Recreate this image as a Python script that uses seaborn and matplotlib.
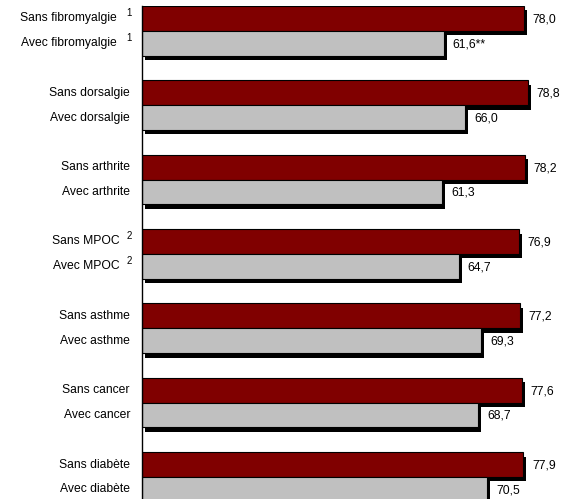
import matplotlib
matplotlib.use("Agg")
import matplotlib.pyplot as plt
import matplotlib.transforms as mtrans
from matplotlib.patches import Rectangle
import seaborn as sns
import pandas as pd

# ---- data ----
sans_labels = ["Sans fibromyalgie", "Sans dorsalgie", "Sans arthrite", "Sans MPOC",
               "Sans asthme", "Sans cancer", "Sans diabète"]
avec_labels = ["Avec fibromyalgie", "Avec dorsalgie", "Avec arthrite", "Avec MPOC",
               "Avec asthme", "Avec cancer", "Avec diabète"]
sans_values = [78.0, 78.8, 78.2, 76.9, 77.2, 77.6, 77.9]
avec_values = [61.6, 66.0, 61.3, 64.7, 69.3, 68.7, 70.5]
avec_marks = ["**", "", "", "", "", "", ""]
superscripts = ["1", "", "", "2", "", "", ""]

sns.set_style("white")
plt.rcParams["font.family"] = ["Liberation Sans", "DejaVu Sans"]

COL_SANS = "#800000"
COL_AVEC = "#C0C0C0"

# category order with blank spacer rows between pairs
order = []
rows = []
for i in range(len(sans_labels)):
    order += [sans_labels[i], avec_labels[i]]
    if i < len(sans_labels) - 1:
        order.append(" " * (i + 1))
    rows.append({"label": sans_labels[i], "value": sans_values[i], "groupe": "Sans"})
    rows.append({"label": avec_labels[i], "value": avec_values[i], "groupe": "Avec"})
df = pd.DataFrame(rows)
pos = {lab: k for k, lab in enumerate(order)}

W, H, DPI = 565, 499, 100
fig = plt.figure(figsize=(W / DPI, H / DPI), dpi=DPI)
ax_left = 142
ax = fig.add_axes([ax_left / W, 0, 1 - ax_left / W, 493 / H])

sns.barplot(data=df, y="label", x="value", hue="groupe", order=order,
            palette={"Sans": COL_SANS, "Avec": COL_AVEC}, orient="h",
            width=1.0, dodge=False, saturation=1, edgecolor="black", linewidth=0.8,
            legend=False, ax=ax, zorder=3)

# drop shadows
shadow_tr = ax.transData + mtrans.ScaledTranslation(0.03, -0.045, fig.dpi_scale_trans)
for p in list(ax.patches):
    r = Rectangle(p.get_xy(), p.get_width(), p.get_height(), facecolor="black",
                  edgecolor="none", transform=shadow_tr, zorder=2)
    ax.add_patch(r)

ax.set_xlim(0, (W - ax_left) / 4.897)
ax.set_ylim(19.39, -0.5)

for s in ["top", "right", "bottom"]:
    ax.spines[s].set_visible(False)
ax.spines["left"].set_color("black")
ax.spines["left"].set_linewidth(1.0)
ax.spines["left"].set_zorder(5)
ax.set_xticks([])
ax.set_yticks([])
ax.set_xlabel("")
ax.set_ylabel("")

FS = 8.7
ytr = ax.get_yaxis_transform()

def lab_tr(dx_px, dy_px=0):
    return ytr + mtrans.ScaledTranslation(dx_px / DPI, dy_px / DPI, fig.dpi_scale_trans)

for i in range(len(sans_labels)):
    pad = 12
    if superscripts[i]:
        pad = 25 if i == 0 else 22
    for lab in (sans_labels[i], avec_labels[i]):
        ax.text(0, pos[lab], lab, transform=lab_tr(-pad), ha="right", va="center",
                fontsize=FS, color="black")
        if superscripts[i]:
            ax.text(0, pos[lab], superscripts[i], transform=lab_tr(-10, 5.5),
                    ha="right", va="center", fontsize=7, color="black")

val_tr = ax.transData + mtrans.ScaledTranslation(8.7 / DPI, -1 / DPI, fig.dpi_scale_trans)
for i in range(len(sans_labels)):
    ax.text(sans_values[i], pos[sans_labels[i]], f"{sans_values[i]:.1f}".replace(".", ","),
            transform=val_tr, ha="left", va="center", fontsize=FS, color="black")
    ax.text(avec_values[i], pos[avec_labels[i]],
            f"{avec_values[i]:.1f}".replace(".", ",") + avec_marks[i],
            transform=val_tr, ha="left", va="center", fontsize=FS, color="black")

fig.savefig("out.png", dpi=DPI)
